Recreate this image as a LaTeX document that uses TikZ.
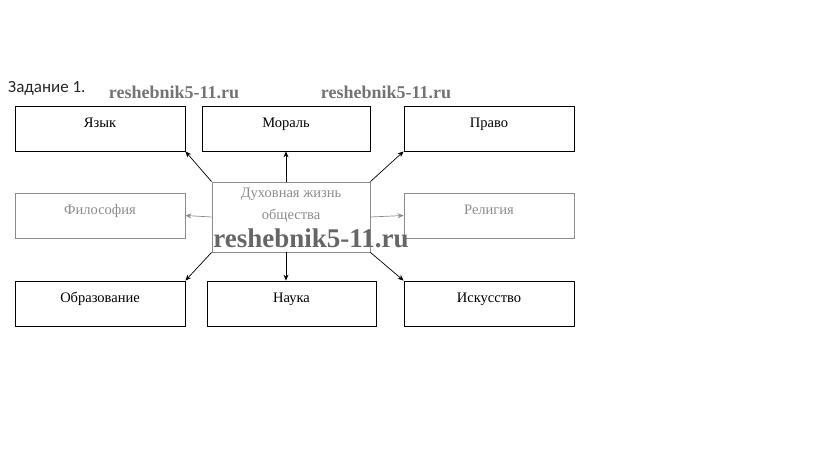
\documentclass[tikz,border=0pt]{standalone}
\usepackage{fontspec}
\setmainfont{Liberation Serif}
\newfontfamily\carl{Carlito}
\usetikzlibrary{arrows.meta}
\begin{document}
\begin{tikzpicture}[x=1pt,y=-1pt,
  box/.style={draw=black, line width=0.8pt, minimum width=170pt, minimum height=45pt, inner sep=0pt, anchor=center},
  ttl/.style={anchor=north, yshift=-8pt, text height=10pt, text depth=3pt, font=\fontsize{14.5}{16}\selectfont, text=black},
  faded/.style={draw=black!45},
  arr/.style={draw=black, line width=0.7pt, -{Stealth[length=6pt,width=5pt]}},
  wm/.style={font=\bfseries\fontsize{18}{20}\selectfont, text=black!55},
  wmbig/.style={font=\bfseries\fontsize{27}{29}\selectfont, text=black!60}]
\useasboundingbox (0,0) rectangle (823,455);
\node[anchor=west, font=\carl\fontsize{17}{19}\selectfont, text=black!85, inner sep=0pt] (task) at (8,88) {Задание 1.};
\node[wm] (w1) at (174,92) {reshebnik5-11.ru};
\node[wm] (w2) at (386,92) {reshebnik5-11.ru};

\node[box, label={[ttl]north:Язык}] (yaz) at (100,128.5) {};
\node[box, minimum width=168pt, label={[ttl]north:Мораль}] (mor) at (286,128.5) {};
\node[box, label={[ttl]north:Право}] (pra) at (489,128.5) {};

\node[box, faded, label={[ttl, text=black!45]north:Философия}] (fil) at (100,215.5) {};
\node[box, faded, minimum width=158pt, minimum height=70pt,
  label={[anchor=north, yshift=-3pt, text=black!45, align=center, font=\fontsize{14.5}{22}\selectfont]north:Духовная жизнь\\общества}] (c) at (291,217) {};
\node[box, faded, label={[ttl, text=black!45]north:Религия}] (rel) at (489,215.5) {};

\node[box, label={[ttl]north:Образование}] (obr) at (100,303.5) {};
\node[box, minimum width=169pt, label={[ttl]north:Наука}] (nau) at (291.5,303.5) {};
\node[box, label={[ttl]north:Искусство}] (isk) at (489,303.5) {};

\draw[arr] (c.north west) -- (yaz.south east);
\draw[arr] (c.north -| mor.south) -- (mor.south);
\draw[arr] (c.north east) -- (pra.south west);
\draw[arr, draw=black!45] (c.west) -- (fil.east);
\draw[arr, draw=black!45] (c.east) -- (rel.west);
\draw[arr] (c.south west) -- (obr.north east);
\draw[arr] (c.south -| mor.south) -- (mor.south |- nau.north);
\draw[arr] (c.south east) -- (isk.north west);

\node[wmbig] (w3) at (311,238) {reshebnik5-11.ru};
\end{tikzpicture}
\end{document}
